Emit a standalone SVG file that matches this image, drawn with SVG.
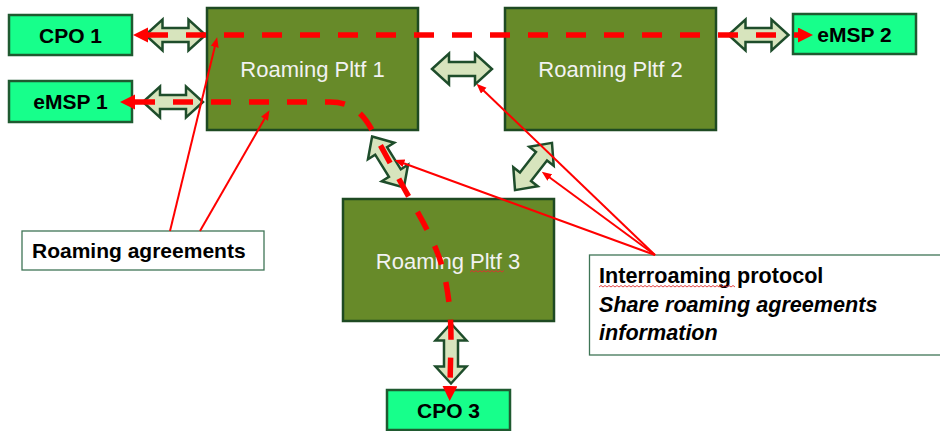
<svg xmlns="http://www.w3.org/2000/svg" width="940" height="431" viewBox="0 0 940 431">
<style>
.pl{fill:#678A29;stroke:#1E4A22;stroke-width:2.5}
.sm{fill:#17FF8B;stroke:#1F5A30;stroke-width:2.5}
.pt{font-family:"Liberation Sans",Arial,sans-serif;font-size:22px;fill:#F2F2F2;text-anchor:middle}
.st{font-family:"Liberation Sans",Arial,sans-serif;font-size:21px;font-weight:bold;fill:#000;text-anchor:middle}
.cb{fill:#fff;stroke:#3F7556;stroke-width:1.3}
.ct{font-family:"Liberation Sans",Arial,sans-serif;font-size:21px;font-weight:bold;fill:#000}
.ci{font-size:21.6px}
.ba{fill:#D7E4BD;stroke:#1E4D2B;stroke-width:2.5;stroke-linejoin:miter}
.rd{fill:none;stroke:#FF0000;stroke-width:5.5;stroke-dasharray:20 18}
.rt{fill:none;stroke:#FF0000;stroke-width:2}
.sq{fill:none;stroke:#E03030;stroke-width:0.9}
</style>
<defs>
<path id="dbl" d="M-30,0 L-13,-15.5 L-13,-7 L13,-7 L13,-15.5 L30,0 L13,15.5 L13,7 L-13,7 L-13,15.5 Z"/>
<marker id="ah" markerUnits="userSpaceOnUse" markerWidth="16" markerHeight="16" refX="0" refY="7.5" orient="auto-start-reverse">
<path d="M0,0 L15,7.5 L0,15 Z" fill="#FF0000"/>
</marker>
<marker id="sa" markerUnits="userSpaceOnUse" markerWidth="12" markerHeight="10" refX="1" refY="4" orient="auto">
<path d="M0,0 L10,4 L0,8 Z" fill="#FF0000"/>
</marker>
</defs>

<g id="pltf1"><rect class="pl" x="207" y="8" width="211" height="122"/><text class="pt" x="312.5" y="77">Roaming Pltf 1</text></g>
<g id="pltf2"><rect class="pl" x="505" y="8" width="211" height="122"/><text class="pt" x="610.5" y="77">Roaming Pltf 2</text></g>
<g id="pltf3"><rect class="pl" x="343" y="199" width="211" height="122"/><text class="pt" x="448" y="269">Roaming Pltf 3</text>
<path class="sq" d="M470,272 l2,-1.5 l2,1.5 l2,-1.5 l2,1.5 l2,-1.5 l2,1.5 l2,-1.5 l2,1.5 l2,-1.5 l2,1.5 l2,-1.5 l2,1.5 l2,-1.5 l2,1.5 l2,-1.5 l2,1.5 l2,-1.5"/></g>
<g id="cpo1"><rect class="sm" x="9" y="15" width="123" height="40"/><text class="st" x="70.5" y="42.5">CPO 1</text></g>
<g id="emsp1"><rect class="sm" x="9" y="81" width="123" height="41"/><text class="st" x="70.5" y="109">eMSP 1</text></g>
<g id="emsp2"><rect class="sm" x="793" y="14" width="123" height="40"/><text class="st" x="854.5" y="42">eMSP 2</text></g>
<g id="cpo3"><rect class="sm" x="387" y="390" width="123" height="40"/><text class="st" x="448.5" y="418">CPO 3</text></g>
<g id="roaming-agreements"><rect class="cb" x="22" y="231" width="242" height="39"/><text class="ct" x="32" y="258">Roaming agreements</text></g>
<g id="interroaming"><rect class="cb" x="589.5" y="255" width="360" height="100"/>
<text class="ct ci" x="599" y="283">Interroaming protocol</text>
<text class="ct ci" x="599" y="312" font-style="italic">Share roaming agreements</text>
<text class="ct ci" x="599" y="340" font-style="italic">information</text>
<path class="sq" d="M599,287 l2,-1.5 l2,1.5 l2,-1.5 l2,1.5 l2,-1.5 l2,1.5 l2,-1.5 l2,1.5 l2,-1.5 l2,1.5 l2,-1.5 l2,1.5 l2,-1.5 l2,1.5 l2,-1.5 l2,1.5 l2,-1.5 l2,1.5 l2,-1.5 l2,1.5 l2,-1.5 l2,1.5 l2,-1.5 l2,1.5 l2,-1.5 l2,1.5 l2,-1.5 l2,1.5 l2,-1.5 l2,1.5 l2,-1.5 l2,1.5 l2,-1.5 l2,1.5 l2,-1.5 l2,1.5 l2,-1.5 l2,1.5 l2,-1.5 l2,1.5 l2,-1.5 l2,1.5 l2,-1.5 l2,1.5 l2,-1.5 l2,1.5 l2,-1.5 l2,1.5 l2,-1.5 l2,1.5 l2,-1.5 l2,1.5 l2,-1.5 l2,1.5 l2,-1.5 l2,1.5 l2,-1.5 l2,1.5 l2,-1.5 l2,1.5 l2,-1.5 l2,1.5 l2,-1.5 l2,1.5 l2,-1.5 l2,1.5 l2,-1.5 l2,1.5"/></g>

<g id="connectors">
<use href="#dbl" class="ba" transform="translate(175.5,35)"/>
<use href="#dbl" class="ba" transform="translate(173,102)"/>
<use href="#dbl" class="ba" transform="translate(462,69)"/>
<use href="#dbl" class="ba" transform="translate(758.5,35)"/>
<use href="#dbl" class="ba" transform="translate(451,353.5) rotate(90)"/>
<use href="#dbl" class="ba" transform="translate(388,162) rotate(58)"/>
<use href="#dbl" class="ba" transform="translate(533.5,166.5) rotate(-52)"/>
<path class="rd" d="M148,35 L798,35" marker-start="url(#ah)" marker-end="url(#ah)"/>
<path class="rd" d="M135,102 L330,102 C350,102 362,112 372,130 L405,190 C425,225 440,250 446,283 C450,305 451,320 451,340 L450,386" marker-start="url(#ah)" marker-end="url(#ah)"/>
<path class="rt" d="M170,231 L215,46" marker-end="url(#sa)"/>
<path class="rt" d="M200,231 L265,118" marker-end="url(#sa)"/>
<path class="rt" d="M655,255 L483,90" marker-end="url(#sa)"/>
<path class="rt" d="M655,255 L549,177" marker-end="url(#sa)"/>
<path class="rt" d="M655,255 L403,163" marker-end="url(#sa)"/>
</g>
</svg>
